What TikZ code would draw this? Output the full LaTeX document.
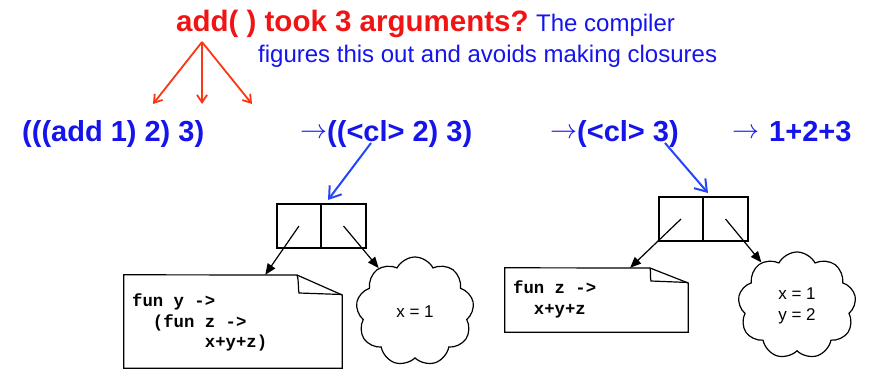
\documentclass[tikz,border=0pt]{standalone}
\usepackage{fontspec}
\setmainfont{Liberation Sans}
\newfontfamily\codefont{Liberation Mono}
\usetikzlibrary{arrows.meta,shapes.symbols,calc}
\definecolor{txtblue}{RGB}{20,20,235}
\definecolor{arrblue}{RGB}{35,70,250}
\definecolor{txtred}{RGB}{240,20,20}
\definecolor{arrred}{RGB}{250,55,20}
\newcommand{\thinarrow}{\raisebox{2.5pt}{\resizebox{27pt}{!}{$\rightarrow$}}}
\begin{document}
\begin{tikzpicture}[x=1pt,y=-1pt,
  bigtxt/.style={font=\fontsize{29}{34}\selectfont\bfseries, text=txtblue, inner sep=0pt, anchor=base west},
  redtitle/.style={font=\fontsize{29.5}{34}\selectfont\bfseries, text=txtred, inner sep=0pt, anchor=base west},
  expl/.style={font=\fontsize{24}{28}\selectfont, text=txtblue, inner sep=0pt, anchor=base west},
  codeln/.style={font=\fontsize{17.3}{20}\selectfont\codefont\bfseries, inner sep=0pt, anchor=base west},
  cell/.style={draw, line width=1.2pt, inner sep=0pt, minimum height=44pt},
  notebox/.style={inner sep=0pt},
  noteline/.style={line width=1.2pt, line join=miter},
  cloudnode/.style={cloud, draw, line width=1.2pt, cloud puffs=9, cloud puff arc=125, cloud ignores aspect,
     inner sep=0pt, align=left, font=\fontsize{17}{21}\selectfont},
  blk/.style={line width=1.2pt, -{Triangle[length=11pt,width=9pt]}},
  bluearr/.style={draw=arrblue, line width=2pt, -{Straight Barb[length=11pt,width=15pt]}},
  redarr/.style={draw=arrred, line width=1.8pt, -{Straight Barb[length=7.5pt,width=10pt]}}
]
\useasboundingbox (0,0) rectangle (871,369);

% top text
\node[redtitle] (title) at (176,32) {add( ) took 3 arguments?};
\node[expl] (expl1) at (536,32) {The compiler};
\node[expl] (expl2) at (258,63) {figures this out and avoids making closures};

% expressions
\node[bigtxt] (e1) at (22,141) {(((add 1) 2) 3)};
\node[bigtxt] (e2) at (300,141) {\thinarrow((<cl> 2) 3)};
\node[bigtxt] (e3) at (550,141) {\thinarrow(<cl> 3)};
\node[bigtxt] (e4) at (732,141) {\thinarrow\hspace{10pt}1+2+3};

% red arrows
\coordinate (apex) at (202,42);
\coordinate (r1) at (153,104);
\coordinate (r2) at (202,104);
\coordinate (r3) at (252,104);
\draw[redarr] (apex) -- (r1);
\draw[redarr] (apex) -- (r2);
\draw[redarr] (apex) -- (r3);

% first closure
\node[cell, minimum width=44pt] (b1l) at (299,226) {};
\node[cell, minimum width=45pt] (b1r) at (343.5,226) {};
\coordinate (cl1) at (371,143);
\coordinate (t1) at (328,200);
\draw[bluearr] (cl1) -- (t1);

\node[notebox, minimum width=218pt, minimum height=93pt] (note1) at (233,321.5) {};
\draw[noteline] (note1.north west) -- (297,275) -- (note1.north east |- 0,295) -- (note1.south east) -- (note1.south west) -- cycle;
\draw[noteline] (297,275) .. controls (299,280) and (298,290) .. (299,293) -- (note1.north east |- 0,294.5);
\node[codeln] (c1a) at (132,306) {fun y ->};
\node[codeln] (c1b) at (132,327) {\ \ (fun z ->};
\node[codeln] (c1c) at (132,347) {\ \ \ \ \ \ \ x+y+z)};

\node[cloudnode, minimum width=118pt, minimum height=109pt] (cloud1) at (415,311.5) {x = 1};

\draw[blk] (b1l.center) -- (note1);
\draw[blk] (b1r.center) -- (cloud1);

% second closure
\node[cell, minimum width=44pt] (b2l) at (681,219) {};
\node[cell, minimum width=45pt] (b2r) at (725.5,219) {};
\coordinate (cl2) at (665,143);
\coordinate (t2) at (708,193);
\draw[bluearr] (cl2) -- (t2);

\node[notebox, minimum width=183pt, minimum height=64pt] (note2) at (596.5,300) {};
\draw[noteline] (note2.north west) -- (650,268) -- (note2.north east |- 0,283) -- (note2.south east) -- (note2.south west) -- cycle;
\draw[noteline] (650,268) .. controls (651,272) and (650,278) .. (651,281) -- (note2.north east |- 0,282.5);
\node[codeln] (c2a) at (513,293) {fun z ->};
\node[codeln] (c2b) at (513,314) {\ \ x+y+z};

\node[cloudnode, minimum width=118pt, minimum height=107pt] (cloud2) at (797,305.5) {x = 1\\y = 2};

\draw[blk] (b2l.center) -- (note2);
\draw[blk] (b2r.center) -- (cloud2);
\end{tikzpicture}
\end{document}
